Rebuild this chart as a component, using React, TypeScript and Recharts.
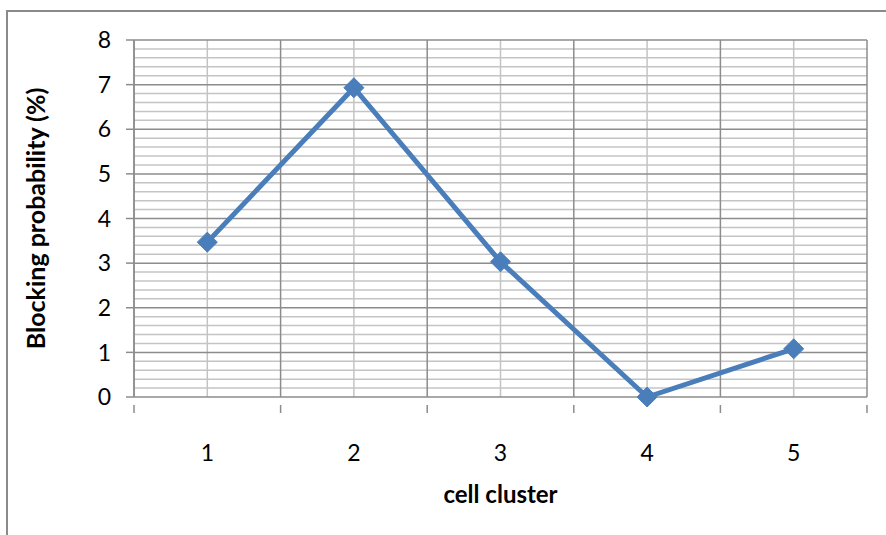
import React from 'react';
import { LineChart, Line, XAxis, YAxis, ReferenceLine } from 'recharts';

const clusters = [1, 2, 3, 4, 5];
const blocking = [3.47, 6.93, 3.03, 0, 1.08];
const yTicks = [0, 1, 2, 3, 4, 5, 6, 7, 8];
const xTicks = [0.5, 1, 1.5, 2, 2.5, 3, 3.5, 4, 4.5, 5, 5.5];

const data = clusters.map((c, i) => ({ cluster: c, value: blocking[i] }));

const minorY: number[] = [];
for (let i = 0; i < 40; i++) {
  if (i % 5 !== 0) minorY.push(i / 5);
}
const majorY = yTicks.slice(1);
const boundaries = xTicks.filter((t) => !clusters.includes(t));

const FONT = 'Lato, "Open Sans", sans-serif';
const GRID_MAJOR = '#8c8c8c';
const GRID_MINOR = '#c4c4c4';
const LINE = '#4a7ebb';

const XTick = (props: any) => {
  const { x, y, payload } = props;
  const v = payload.value;
  if (clusters.includes(v)) {
    return (
      <text x={x} y={y + 47} textAnchor="middle" dominantBaseline="central" fontSize={23} fontFamily={FONT} fill="#000">
        {v}
      </text>
    );
  }
  return <line x1={x} x2={x} y1={y} y2={y + 8} stroke={GRID_MAJOR} strokeWidth={1.5} />;
};

const Diamond = (props: any) => {
  const { cx, cy } = props;
  if (cx == null || cy == null) return null;
  const r = 10;
  return <polygon points={`${cx},${cy - r} ${cx + r},${cy} ${cx},${cy + r} ${cx - r},${cy}`} fill={LINE} stroke={LINE} />;
};

export default function App() {
  return (
    <div style={{ position: 'absolute', left: 0, top: 0, width: 886, height: 535, overflow: 'hidden', background: '#fff' }}>
      <div style={{ position: 'absolute', left: 6, top: 10, width: 950, height: 600, border: '2px solid #8a8a8a', boxSizing: 'border-box' }} />
      <div style={{ position: 'absolute', left: 0, top: 0 }}>
        <LineChart width={886} height={535} data={data} margin={{ top: 40, right: 19, bottom: 0, left: 74 }}>
          {minorY.map((v) => (
            <ReferenceLine key={'my' + v} y={v} stroke={GRID_MINOR} strokeWidth={1.5} ifOverflow="visible" />
          ))}
          {clusters.map((v) => (
            <ReferenceLine key={'mx' + v} x={v} stroke={GRID_MINOR} strokeWidth={1.5} ifOverflow="visible" />
          ))}
          {majorY.map((v) => (
            <ReferenceLine key={'My' + v} y={v} stroke={GRID_MAJOR} strokeWidth={1.5} ifOverflow="visible" />
          ))}
          {boundaries.map((v) => (
            <ReferenceLine key={'Mx' + v} x={v} stroke={GRID_MAJOR} strokeWidth={1.5} ifOverflow="visible" />
          ))}
          <XAxis
            dataKey="cluster"
            type="number"
            domain={[0.5, 5.5]}
            ticks={xTicks}
            interval={0}
            height={138}
            tickLine={false}
            axisLine={{ stroke: GRID_MAJOR, strokeWidth: 1.5 }}
            tick={<XTick />}
            label={{
              content: (p: any) => {
                const vb = p.viewBox;
                return (
                  <text x={vb.x + vb.width / 2} y={vb.y + 96} textAnchor="middle" dominantBaseline="central" fontSize={24} fontWeight="bold" fontFamily={FONT} fill="#000">
                    cell cluster
                  </text>
                );
              },
            }}
          />
          <YAxis
            type="number"
            domain={[0, 8]}
            ticks={yTicks}
            interval={0}
            width={60}
            tickSize={8}
            tickMargin={15}
            tickLine={{ stroke: GRID_MAJOR, strokeWidth: 1.5 }}
            axisLine={{ stroke: GRID_MAJOR, strokeWidth: 1.5 }}
            tick={{ fontSize: 23, fontFamily: FONT, fill: '#000' }}
            label={{
              content: (p: any) => {
                const vb = p.viewBox;
                const cx = vb.x - 39;
                const cy = vb.y + vb.height / 2;
                return (
                  <text x={cx} y={cy} transform={`rotate(-90 ${cx} ${cy})`} textAnchor="middle" dominantBaseline="central" fontSize={25} fontWeight="bold" fontFamily={FONT} fill="#000">
                    Blocking probability (%)
                  </text>
                );
              },
            }}
          />
          <Line
            type="linear"
            dataKey="value"
            stroke={LINE}
            strokeWidth={5}
            dot={<Diamond />}
            activeDot={false}
            isAnimationActive={false}
          />
        </LineChart>
      </div>
    </div>
  );
}
